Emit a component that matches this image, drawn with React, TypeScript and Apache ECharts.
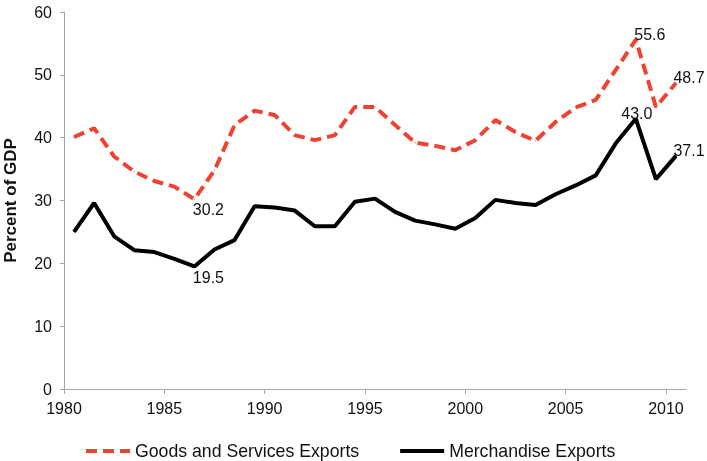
import React, { useEffect, useRef } from "react";
import * as echarts from "echarts";

const years = [
  1980, 1981, 1982, 1983, 1984, 1985, 1986, 1987, 1988, 1989,
  1990, 1991, 1992, 1993, 1994, 1995, 1996, 1997, 1998, 1999,
  2000, 2001, 2002, 2003, 2004, 2005, 2006, 2007, 2008, 2009, 2010,
];
const goodsServices = [
  40.1, 41.5, 37.0, 34.6, 33.1, 32.2, 30.2, 34.8, 42.0, 44.3,
  43.6, 40.4, 39.6, 40.4, 44.9, 44.9, 42.0, 39.2, 38.7, 38.0,
  39.6, 42.8, 40.9, 39.5, 42.5, 44.8, 46.0, 50.8, 55.6, 44.9, 48.7,
];
const merchandise = [
  25.0, 29.6, 24.3, 22.1, 21.8, 20.7, 19.5, 22.2, 23.7, 29.1,
  28.9, 28.4, 25.9, 25.9, 29.8, 30.3, 28.2, 26.8, 26.2, 25.5,
  27.2, 30.1, 29.6, 29.3, 31.0, 32.4, 34.0, 39.1, 43.0, 33.4, 37.1,
];
const xTicks = [1980, 1985, 1990, 1995, 2000, 2005, 2010];
const labeledYears = [1986, 2008, 2010];
const seriesNames = ["Goods and Services Exports", "Merchandise Exports"];

const RED = "#EE4332";
const FONT = "Liberation Sans, Arial, Helvetica, sans-serif";

function buildData(values: number[], labelCfg: Record<number, any>) {
  return years.map((y, i) => {
    const item: any = { value: [y + 0.5, values[i]] };
    if (labeledYears.includes(y) && labelCfg[y]) {
      item.label = {
        show: true,
        formatter: values[i].toFixed(1),
        color: "#111",
        fontSize: 16,
        fontFamily: FONT,
        ...labelCfg[y],
      };
    }
    return item;
  });
}

const dashIcon = "path://M0,0h11v4h-11z M17,0h11v4h-11z M34,0h10v4h-10z";
const solidIcon = "path://M0,0h44v4h-44z";

export default function App() {
  const ref = useRef<HTMLDivElement>(null);
  useEffect(() => {
    if (!ref.current) return;
    const chart = echarts.init(ref.current, null, { renderer: "svg" });
    chart.setOption({
      animation: false,
      textStyle: { fontFamily: FONT },
      grid: {
        left: 64,
        right: 21,
        top: 12,
        bottom: 72,
        containLabel: false,
        outerBoundsMode: "none",
      },
      legend: {
        left: 86,
        top: 442,
        padding: 0,
        itemWidth: 44,
        itemHeight: 4,
        itemGap: 41,
        textStyle: { fontSize: 17.7, color: "#111", fontFamily: FONT },
        data: [
          { name: seriesNames[0], icon: dashIcon, itemStyle: { color: RED } },
          { name: seriesNames[1], icon: solidIcon, itemStyle: { color: "#000" } },
        ],
      },
      xAxis: {
        type: "value",
        min: 1980,
        max: 2011,
        splitLine: { show: false },
        axisLine: { show: true, lineStyle: { color: "#A6A6A6", width: 1 } },
        axisTick: {
          show: true,
          length: 5,
          customValues: xTicks,
          lineStyle: { color: "#A6A6A6" },
        },
        axisLabel: {
          customValues: xTicks,
          formatter: (v: number) => String(v),
          fontSize: 16,
          color: "#111",
          margin: 11,
          fontFamily: FONT,
        },
      },
      yAxis: {
        type: "value",
        min: 0,
        max: 60,
        interval: 10,
        name: "Percent of GDP",
        nameLocation: "middle",
        nameGap: 45,
        nameTextStyle: { fontSize: 17, fontWeight: "bold", color: "#111", fontFamily: FONT },
        splitLine: { show: false },
        axisLine: { show: true, lineStyle: { color: "#A6A6A6", width: 1 } },
        axisTick: { show: true, length: 4, lineStyle: { color: "#A6A6A6" } },
        axisLabel: { fontSize: 16, color: "#111", margin: 12, fontFamily: FONT },
      },
      series: [
        {
          name: seriesNames[0],
          type: "line",
          showSymbol: true,
          symbol: "circle",
          symbolSize: 1,
          itemStyle: { color: RED, opacity: 1 },
          lineStyle: { color: RED, width: 4, type: [11, 6], cap: "butt" },
          emphasis: { disabled: true },
          data: buildData(goodsServices, {
            1986: { position: "bottom", distance: 2, offset: [14, 0] },
            2008: { position: "top", distance: 0, offset: [14, 3] },
            2010: { position: "top", distance: 0, offset: [13, 3] },
          }),
        },
        {
          name: seriesNames[1],
          type: "line",
          showSymbol: true,
          symbol: "circle",
          symbolSize: 1,
          itemStyle: { color: "#000" },
          lineStyle: { color: "#000", width: 4 },
          emphasis: { disabled: true },
          data: buildData(merchandise, {
            1986: { position: "bottom", distance: 3, offset: [14, 0] },
            2008: { position: "top", distance: 0, offset: [1, 3] },
            2010: { position: "top", distance: 0, offset: [13, 3] },
          }),
        },
      ],
    });
    return () => chart.dispose();
  }, []);
  return (
    <div
      ref={ref}
      style={{ position: "fixed", left: 0, top: 0, width: 707, height: 461 }}
    />
  );
}
